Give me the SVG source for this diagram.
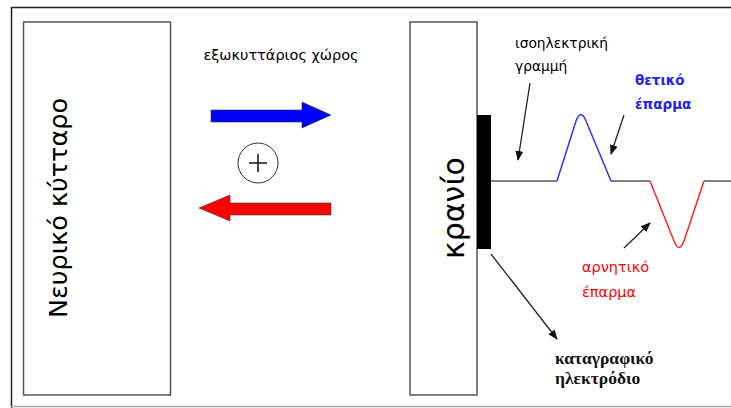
<svg xmlns="http://www.w3.org/2000/svg" width="731" height="408" viewBox="0 0 731 408">
  <style>
    .box { fill: #fff; stroke: #555; stroke-width: 1.5; }
    .lbl { font-family: "DejaVu Sans", "Liberation Sans", sans-serif; fill: #000; }
    .ser { font-family: "Liberation Serif", "DejaVu Serif", serif; font-weight: bold; fill: #111; }
    .ptr { stroke: #222; stroke-width: 1.3; fill: none; marker-end: url(#head); }
    .trace { fill: none; stroke-width: 1.5; }
  </style>
  <defs>
    <marker id="head" markerWidth="10" markerHeight="10" refX="9" refY="5" orient="auto" markerUnits="userSpaceOnUse">
      <path d="M0,1 L10,5 L0,9 Z" fill="#111"/>
    </marker>
  </defs>

  <rect width="731" height="408" fill="#fff"/>
  <!-- outer frame -->
  <path d="M11.5,408 V7.5 H731" fill="none" stroke="#222" stroke-width="1.5"/>
  <line x1="11" y1="406.5" x2="731" y2="406.5" stroke="#aaa" stroke-width="1.5"/>

  <g id="neuron">
    <rect class="box" x="23.5" y="22" width="147" height="373"/>
    <text class="lbl" transform="translate(67,208) rotate(-90)" text-anchor="middle" font-size="25" textLength="220" lengthAdjust="spacingAndGlyphs">Νευρικό κύτταρο</text>
  </g>

  <g id="skull">
    <rect class="box" x="410" y="22" width="67" height="373"/>
    <text class="lbl" transform="translate(464,208) rotate(-90)" text-anchor="middle" font-size="30">κρανίο</text>
  </g>

  <g id="electrode">
    <rect x="477" y="115" width="14" height="134" fill="#000"/>
  </g>

  <g id="space-label">
    <text class="lbl" x="281" y="60" text-anchor="middle" font-size="14.5">εξωκυττάριος χώρος</text>
  </g>

  <g id="outward-current">
    <path d="M211,110 H302 V102 L331,115 L302,128 V122 H211 Z" fill="#0000ff" stroke="#333" stroke-width="0.6"/>
  </g>

  <g id="charge">
    <circle cx="258" cy="163" r="20" fill="#fff" stroke="#333" stroke-width="1"/>
    <path d="M258,154 V172 M249,163 H267" stroke="#111" stroke-width="1.5"/>
  </g>

  <g id="inward-current">
    <path d="M331,203 H230 V195 L199,208 L230,221 V215 H331 Z" fill="#ff0000" stroke="#333" stroke-width="0.6"/>
  </g>

  <g id="trace">
    <path class="trace" stroke="#555" d="M491,181 H557 M611,181 H650 M704,181 H731"/>
    <path class="trace" stroke="#3333ff" d="M557,181 L576,121 Q581,108 586,121 L611,181"/>
    <path class="trace" stroke="#ff2222" d="M650,181 L674,241 Q679,254 684,241 L704,181"/>
  </g>

  <g id="isoelectric-label">
    <text class="lbl" x="515" y="48" font-size="13.8">ισοηλεκτρική</text>
    <text class="lbl" x="515" y="71" font-size="13.8">γραμμή</text>
  </g>

  <g id="positive-label">
    <text class="lbl" x="635" y="85" font-size="13.5" font-weight="bold" style="fill:#2222ee">θετικό</text>
    <text class="lbl" x="635" y="109" font-size="13.5" font-weight="bold" style="fill:#2222ee">έπαρμα</text>
  </g>

  <g id="negative-label">
    <text class="lbl" x="582" y="272" font-size="14.5" style="fill:#ff0000">αρνητικό</text>
    <text class="lbl" x="582" y="297" font-size="14.5" style="fill:#ff0000">έπαρμα</text>
  </g>

  <g id="electrode-label">
    <text class="ser" x="555" y="364" font-size="17.5">καταγραφικό</text>
    <text class="ser" x="555" y="384" font-size="17.5">ηλεκτρόδιο</text>
  </g>

  <g id="connectors">
    <line class="ptr" x1="530" y1="83" x2="518" y2="160"/>
    <line class="ptr" x1="624" y1="115" x2="611" y2="154"/>
    <line class="ptr" x1="624" y1="248" x2="650" y2="223"/>
    <line class="ptr" x1="491" y1="254" x2="557" y2="339"/>
  </g>
</svg>
